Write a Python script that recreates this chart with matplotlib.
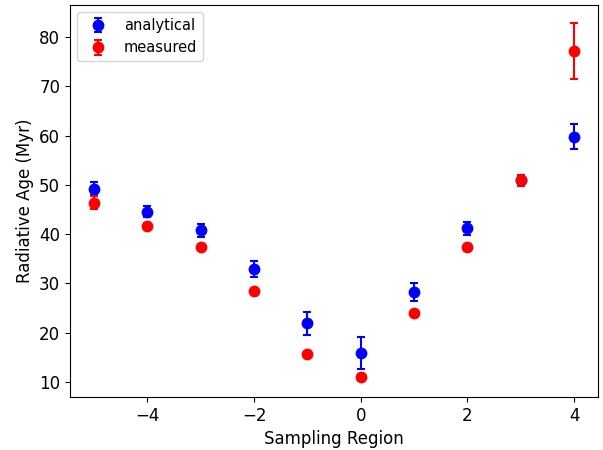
import matplotlib
matplotlib.use("Agg")
import matplotlib.pyplot as plt

regions = [-5, -4, -3, -2, -1, 0, 1, 2, 3, 4]
analytical = [49.2, 44.6, 40.8, 32.9, 21.9, 15.9, 28.2, 41.2, 50.9, 59.8]
analytical_err = [1.3, 1.1, 1.3, 1.6, 2.4, 3.3, 1.8, 1.3, 1.2, 2.6]
measured = [46.4, 41.6, 37.3, 28.4, 15.7, 11.0, 24.0, 37.3, 50.9, 77.2]
measured_err = [1.3, 0.4, 0.4, 0.4, 0.4, 0.4, 0.4, 0.4, 1.1, 5.7]

fig = plt.figure(figsize=(6.03, 4.5), dpi=100)
ax = fig.add_axes([0.116, 0.118, 0.876, 0.871])
ax.errorbar(regions, analytical, yerr=analytical_err, fmt='o', color='blue',
            capsize=3, capthick=1.5, elinewidth=1.5, markersize=7.5, label='analytical')
ax.errorbar(regions, measured, yerr=measured_err, fmt='o', color='red',
            capsize=3, capthick=1.5, elinewidth=1.5, markersize=7.5, label='measured')
ax.set_xlabel('Sampling Region', fontsize=12)
ax.set_ylabel('Radiative Age (Myr)', fontsize=12)
ax.tick_params(labelsize=12)
ax.legend(loc='upper left', fontsize=10.5)
fig.savefig('out.png', dpi=100)
